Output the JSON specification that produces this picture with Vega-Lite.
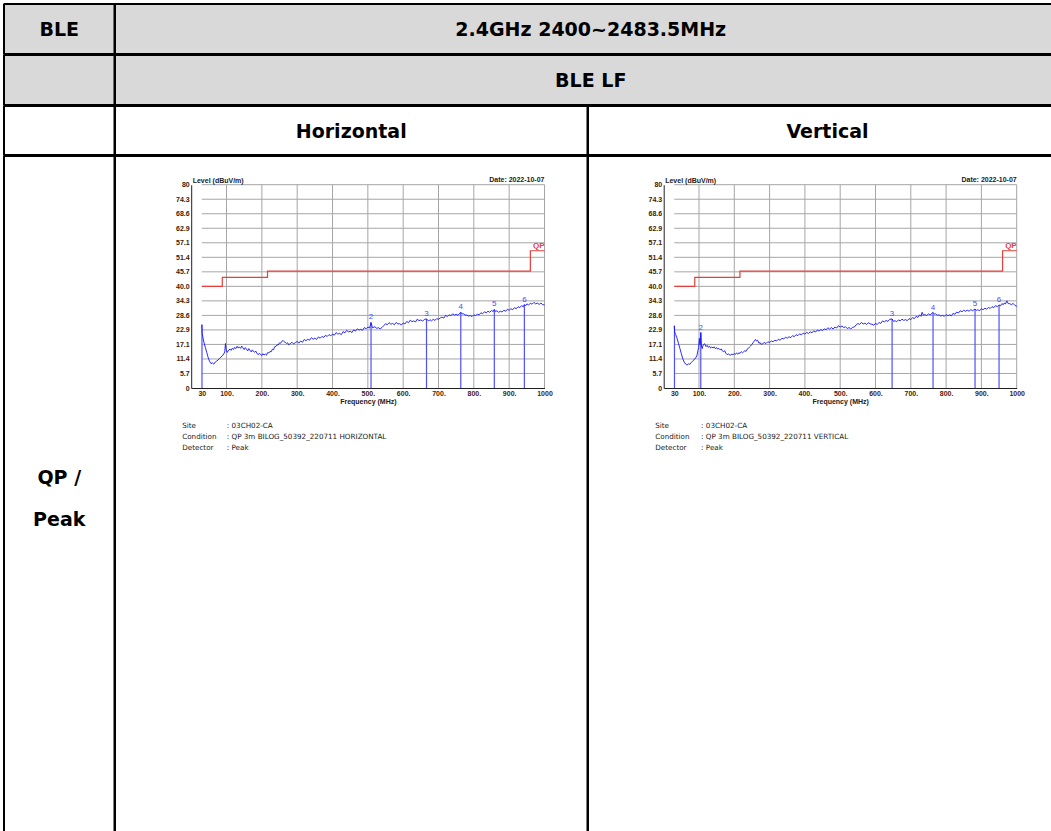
{
  "$schema": "https://vega.github.io/schema/vega-lite/v6.json",
  "padding": {"left": 3, "top": 3, "right": 0, "bottom": 0},
  "background": "white",
  "spacing": -4,
  "bounds": "full",
  "config": {
    "view": {"stroke": null, "fill": null},
    "concat": {"spacing": 0}
  },
  "datasets": {
    "gridF": [{"f": 100}, {"f": 200}, {"f": 300}, {"f": 400}, {"f": 500}, {"f": 600}, {"f": 700}, {"f": 800}, {"f": 900}, {"f": 1000}],
    "gridL": [{"L": 5.714}, {"L": 11.429}, {"L": 17.143}, {"L": 22.857}, {"L": 28.571}, {"L": 34.286}, {"L": 40}, {"L": 45.714}, {"L": 51.429}, {"L": 57.143}, {"L": 62.857}, {"L": 68.571}, {"L": 74.286}, {"L": 80}],
    "limit": [{"f": 30, "L": 40}, {"f": 88, "L": 43.5}, {"f": 216, "L": 46}, {"f": 960, "L": 54}, {"f": 1000, "L": 54}],
    "traceH": [
      {"f": 30, "L": 25.0}, {"f": 31, "L": 21.5}, {"f": 33, "L": 20.0}, {"f": 36, "L": 18.0}, {"f": 40, "L": 16.0}, {"f": 44, "L": 14.0}, {"f": 48, "L": 12.0}, {"f": 52, "L": 10.5}, {"f": 56, "L": 9.6}, {"f": 60, "L": 9.9}, {"f": 64, "L": 9.4}, {"f": 68, "L": 10.2}, {"f": 72, "L": 10.6}, {"f": 76, "L": 11.0}, {"f": 80, "L": 11.6}, {"f": 84, "L": 12.2}, {"f": 88, "L": 12.6}, {"f": 92, "L": 13.4}, {"f": 95, "L": 14.2}, {"f": 97, "L": 17.5},
      {"f": 99, "L": 15.0}, {"f": 102, "L": 14.0}, {"f": 106, "L": 14.9}, {"f": 110, "L": 15.3}, {"f": 113, "L": 14.8}, {"f": 116, "L": 15.6}, {"f": 120, "L": 15.2}, {"f": 123, "L": 16.0}, {"f": 126, "L": 15.5}, {"f": 130, "L": 16.4}, {"f": 133, "L": 15.7}, {"f": 136, "L": 16.2}, {"f": 140, "L": 15.6}, {"f": 143, "L": 16.5}, {"f": 146, "L": 15.9}, {"f": 150, "L": 15.1}, {"f": 153, "L": 15.9}, {"f": 156, "L": 15.4}, {"f": 160, "L": 14.6}, {"f": 163, "L": 15.5}, {"f": 166, "L": 14.9}, {"f": 170, "L": 14.2}, {"f": 173, "L": 15.0}, {"f": 176, "L": 14.4}, {"f": 180, "L": 14.1}, {"f": 183, "L": 14.5}, {"f": 186, "L": 13.6}, {"f": 190, "L": 13.1}, {"f": 193, "L": 13.7}, {"f": 196, "L": 13.2}, {"f": 200, "L": 12.8}, {"f": 203, "L": 13.5}, {"f": 206, "L": 13.0}, {"f": 210, "L": 13.3}, {"f": 213, "L": 12.9}, {"f": 216, "L": 13.9}, {"f": 220, "L": 13.8}, {"f": 223, "L": 14.4}, {"f": 226, "L": 14.2}, {"f": 230, "L": 15.3}, {"f": 233, "L": 15.0}, {"f": 236, "L": 16.2}, {"f": 240, "L": 16.4}, {"f": 243, "L": 17.0}, {"f": 246, "L": 16.9}, {"f": 250, "L": 17.8}, {"f": 253, "L": 17.6}, {"f": 256, "L": 18.3}, {"f": 260, "L": 18.7}, {"f": 263, "L": 18.2}, {"f": 266, "L": 18.0}, {"f": 270, "L": 17.5}, {"f": 273, "L": 17.8}, {"f": 276, "L": 17.0},
      {"f": 280, "L": 17.4}, {"f": 285, "L": 18.0}, {"f": 290, "L": 17.3}, {"f": 295, "L": 17.9}, {"f": 300, "L": 18.3}, {"f": 305, "L": 17.7}, {"f": 310, "L": 18.5}, {"f": 315, "L": 18.0}, {"f": 320, "L": 19.1}, {"f": 325, "L": 18.6}, {"f": 330, "L": 19.2}, {"f": 335, "L": 18.8}, {"f": 340, "L": 19.8}, {"f": 345, "L": 19.2}, {"f": 350, "L": 19.6}, {"f": 355, "L": 19.1}, {"f": 360, "L": 20.1}, {"f": 365, "L": 19.6}, {"f": 370, "L": 20.3}, {"f": 375, "L": 19.9}, {"f": 380, "L": 20.7}, {"f": 385, "L": 20.3}, {"f": 390, "L": 21.0}, {"f": 395, "L": 20.5}, {"f": 400, "L": 21.2}, {"f": 405, "L": 20.8}, {"f": 410, "L": 21.8}, {"f": 415, "L": 21.2}, {"f": 420, "L": 21.5}, {"f": 425, "L": 21.0}, {"f": 430, "L": 22.2}, {"f": 435, "L": 21.7}, {"f": 440, "L": 22.7}, {"f": 445, "L": 22.1}, {"f": 450, "L": 22.3}, {"f": 455, "L": 21.8}, {"f": 460, "L": 22.9}, {"f": 465, "L": 22.4}, {"f": 470, "L": 23.3}, {"f": 475, "L": 22.8}, {"f": 480, "L": 23.1}, {"f": 485, "L": 22.7}, {"f": 490, "L": 23.8}, {"f": 495, "L": 23.3}, {"f": 500, "L": 24.0}, {"f": 505, "L": 23.6}, {"f": 509, "L": 25.8}, {"f": 513, "L": 23.7}, {"f": 520, "L": 24.1}, {"f": 525, "L": 23.5}, {"f": 530, "L": 23.7}, {"f": 535, "L": 23.3}, {"f": 540, "L": 23.8}, {"f": 545, "L": 24.5}, {"f": 550, "L": 25.3}, {"f": 555, "L": 24.9}, {"f": 560, "L": 25.7}, {"f": 565, "L": 25.1}, {"f": 570, "L": 25.4}, {"f": 575, "L": 24.9}, {"f": 580, "L": 25.8}, {"f": 585, "L": 25.2}, {"f": 590, "L": 25.3}, {"f": 595, "L": 24.8}, {"f": 600, "L": 25.6}, {"f": 605, "L": 25.2}, {"f": 610, "L": 26.2}, {"f": 615, "L": 25.7}, {"f": 620, "L": 26.7}, {"f": 625, "L": 26.1}, {"f": 630, "L": 26.4}, {"f": 635, "L": 26.0}, {"f": 640, "L": 27.1}, {"f": 645, "L": 26.5}, {"f": 650, "L": 26.8}, {"f": 655, "L": 26.3}, {"f": 660, "L": 27.0}, {"f": 666, "L": 27.2}, {"f": 672, "L": 26.3}, {"f": 676, "L": 26.9}, {"f": 680, "L": 26.4}, {"f": 685, "L": 27.0}, {"f": 690, "L": 26.6}, {"f": 695, "L": 27.3}, {"f": 700, "L": 27.0}, {"f": 705, "L": 27.6}, {"f": 710, "L": 27.9}, {"f": 715, "L": 27.5}, {"f": 720, "L": 28.6}, {"f": 725, "L": 28.1}, {"f": 730, "L": 28.8}, {"f": 735, "L": 28.4}, {"f": 740, "L": 29.2}, {"f": 745, "L": 28.7}, {"f": 750, "L": 29.0}, {"f": 755, "L": 28.6}, {"f": 763, "L": 29.8}, {"f": 767, "L": 29.1}, {"f": 770, "L": 29.3}, {"f": 775, "L": 28.7}, {"f": 780, "L": 28.7}, {"f": 785, "L": 28.3}, {"f": 790, "L": 28.5}, {"f": 795, "L": 28.1}, {"f": 800, "L": 28.8}, {"f": 805, "L": 28.4}, {"f": 810, "L": 29.1}, {"f": 815, "L": 28.8}, {"f": 820, "L": 29.6}, {"f": 825, "L": 29.2}, {"f": 830, "L": 30.0}, {"f": 835, "L": 29.6}, {"f": 840, "L": 30.2}, {"f": 845, "L": 29.8}, {"f": 850, "L": 30.5}, {"f": 855, "L": 30.1}, {"f": 858, "L": 30.9}, {"f": 862, "L": 30.0}, {"f": 865, "L": 30.4}, {"f": 870, "L": 29.8}, {"f": 875, "L": 30.2}, {"f": 880, "L": 29.9}, {"f": 885, "L": 30.6}, {"f": 890, "L": 30.2}, {"f": 895, "L": 31.0}, {"f": 900, "L": 30.6}, {"f": 905, "L": 31.2}, {"f": 910, "L": 30.8}, {"f": 915, "L": 31.6}, {"f": 920, "L": 31.2}, {"f": 925, "L": 32.0}, {"f": 930, "L": 31.6}, {"f": 935, "L": 32.4}, {"f": 940, "L": 32.0}, {"f": 943, "L": 32.8}, {"f": 947, "L": 32.4}, {"f": 950, "L": 33.1}, {"f": 955, "L": 32.7}, {"f": 960, "L": 33.3}, {"f": 965, "L": 33.0}, {"f": 970, "L": 33.7}, {"f": 975, "L": 33.1}, {"f": 980, "L": 33.4}, {"f": 985, "L": 32.9}, {"f": 990, "L": 33.4}, {"f": 995, "L": 32.8}, {"f": 1000, "L": 32.7}
    ],
    "traceV": [
      {"f": 30, "L": 24.5}, {"f": 31, "L": 22.0}, {"f": 34, "L": 21.0}, {"f": 38, "L": 19.5}, {"f": 42, "L": 17.5}, {"f": 46, "L": 15.5}, {"f": 50, "L": 13.5}, {"f": 54, "L": 11.5}, {"f": 58, "L": 10.2}, {"f": 62, "L": 9.4}, {"f": 66, "L": 9.0}, {"f": 70, "L": 9.5}, {"f": 74, "L": 9.3}, {"f": 78, "L": 10.0}, {"f": 82, "L": 10.6}, {"f": 86, "L": 11.1}, {"f": 90, "L": 11.8}, {"f": 94, "L": 12.6}, {"f": 97, "L": 14.8}, {"f": 99, "L": 16.0}, {"f": 101, "L": 19.5}, {"f": 103, "L": 17.0}, {"f": 105, "L": 21.8}, {"f": 107, "L": 16.5},
      {"f": 109, "L": 15.5}, {"f": 112, "L": 17.0}, {"f": 116, "L": 17.4}, {"f": 120, "L": 16.3}, {"f": 123, "L": 16.8}, {"f": 126, "L": 16.0}, {"f": 130, "L": 16.4}, {"f": 133, "L": 15.7}, {"f": 136, "L": 16.1}, {"f": 140, "L": 15.8}, {"f": 143, "L": 16.2}, {"f": 146, "L": 15.5}, {"f": 150, "L": 15.9}, {"f": 153, "L": 15.3}, {"f": 156, "L": 15.6}, {"f": 160, "L": 15.0}, {"f": 163, "L": 15.4}, {"f": 166, "L": 14.6}, {"f": 170, "L": 14.3}, {"f": 173, "L": 14.7}, {"f": 176, "L": 13.7}, {"f": 180, "L": 13.1}, {"f": 183, "L": 13.5}, {"f": 186, "L": 13.0}, {"f": 190, "L": 12.9}, {"f": 193, "L": 13.4}, {"f": 196, "L": 13.1}, {"f": 200, "L": 13.5}, {"f": 203, "L": 13.2}, {"f": 206, "L": 13.8}, {"f": 210, "L": 13.3}, {"f": 213, "L": 13.9}, {"f": 216, "L": 13.6}, {"f": 220, "L": 14.3}, {"f": 223, "L": 13.9}, {"f": 226, "L": 14.2}, {"f": 230, "L": 14.7}, {"f": 233, "L": 14.4}, {"f": 236, "L": 15.2}, {"f": 240, "L": 15.6}, {"f": 243, "L": 16.1}, {"f": 246, "L": 16.5}, {"f": 250, "L": 17.2}, {"f": 253, "L": 17.8}, {"f": 256, "L": 18.4}, {"f": 260, "L": 19.1}, {"f": 263, "L": 18.5}, {"f": 266, "L": 18.8}, {"f": 270, "L": 17.6}, {"f": 273, "L": 17.9}, {"f": 276, "L": 17.2},
      {"f": 280, "L": 17.4}, {"f": 285, "L": 17.9}, {"f": 290, "L": 17.5}, {"f": 295, "L": 18.2}, {"f": 300, "L": 17.9}, {"f": 305, "L": 18.5}, {"f": 310, "L": 18.2}, {"f": 315, "L": 18.8}, {"f": 320, "L": 18.5}, {"f": 325, "L": 19.2}, {"f": 330, "L": 18.8}, {"f": 335, "L": 19.6}, {"f": 340, "L": 19.3}, {"f": 345, "L": 20.0}, {"f": 350, "L": 19.6}, {"f": 355, "L": 20.2}, {"f": 360, "L": 19.8}, {"f": 365, "L": 20.6}, {"f": 370, "L": 20.2}, {"f": 375, "L": 21.0}, {"f": 380, "L": 20.6}, {"f": 385, "L": 21.3}, {"f": 390, "L": 20.9}, {"f": 395, "L": 21.6}, {"f": 400, "L": 21.2}, {"f": 405, "L": 21.9}, {"f": 410, "L": 21.4}, {"f": 415, "L": 22.1}, {"f": 420, "L": 21.7}, {"f": 425, "L": 22.5}, {"f": 430, "L": 22.0}, {"f": 435, "L": 22.8}, {"f": 440, "L": 22.4}, {"f": 445, "L": 23.0}, {"f": 450, "L": 22.6}, {"f": 455, "L": 23.3}, {"f": 460, "L": 22.9}, {"f": 465, "L": 23.7}, {"f": 470, "L": 23.2}, {"f": 475, "L": 23.8}, {"f": 480, "L": 23.2}, {"f": 485, "L": 24.0}, {"f": 490, "L": 23.6}, {"f": 495, "L": 24.5}, {"f": 500, "L": 24.0}, {"f": 505, "L": 24.4}, {"f": 510, "L": 23.8}, {"f": 515, "L": 24.1}, {"f": 520, "L": 23.4}, {"f": 525, "L": 23.8}, {"f": 530, "L": 23.2}, {"f": 535, "L": 23.9}, {"f": 540, "L": 24.0}, {"f": 545, "L": 24.8}, {"f": 550, "L": 25.4}, {"f": 555, "L": 25.0}, {"f": 560, "L": 25.8}, {"f": 565, "L": 25.2}, {"f": 570, "L": 25.5}, {"f": 575, "L": 25.0}, {"f": 580, "L": 25.7}, {"f": 585, "L": 25.2}, {"f": 590, "L": 25.1}, {"f": 595, "L": 24.7}, {"f": 600, "L": 25.4}, {"f": 605, "L": 25.0}, {"f": 610, "L": 25.8}, {"f": 615, "L": 25.4}, {"f": 620, "L": 26.4}, {"f": 625, "L": 26.0}, {"f": 630, "L": 26.6}, {"f": 635, "L": 26.2}, {"f": 640, "L": 27.0}, {"f": 647, "L": 27.2}, {"f": 651, "L": 26.2}, {"f": 655, "L": 26.5}, {"f": 660, "L": 26.1}, {"f": 665, "L": 26.8}, {"f": 670, "L": 26.4}, {"f": 675, "L": 27.1}, {"f": 680, "L": 26.6}, {"f": 685, "L": 26.9}, {"f": 690, "L": 26.5}, {"f": 695, "L": 27.3}, {"f": 700, "L": 26.9}, {"f": 705, "L": 27.7}, {"f": 710, "L": 27.3}, {"f": 715, "L": 28.2}, {"f": 720, "L": 27.8}, {"f": 725, "L": 28.8}, {"f": 729, "L": 28.2}, {"f": 732, "L": 29.8}, {"f": 736, "L": 28.6}, {"f": 740, "L": 28.9}, {"f": 745, "L": 28.5}, {"f": 750, "L": 29.2}, {"f": 755, "L": 28.8}, {"f": 763, "L": 29.7}, {"f": 767, "L": 29.0}, {"f": 770, "L": 29.2}, {"f": 775, "L": 28.6}, {"f": 780, "L": 28.8}, {"f": 785, "L": 28.3}, {"f": 790, "L": 28.6}, {"f": 795, "L": 28.2}, {"f": 800, "L": 28.9}, {"f": 805, "L": 28.4}, {"f": 810, "L": 28.8}, {"f": 815, "L": 28.4}, {"f": 820, "L": 29.4}, {"f": 825, "L": 29.0}, {"f": 830, "L": 29.9}, {"f": 835, "L": 29.5}, {"f": 840, "L": 30.4}, {"f": 845, "L": 30.0}, {"f": 850, "L": 30.6}, {"f": 855, "L": 30.2}, {"f": 860, "L": 30.6}, {"f": 865, "L": 30.2}, {"f": 870, "L": 30.8}, {"f": 875, "L": 30.4}, {"f": 882, "L": 31.1}, {"f": 886, "L": 30.5}, {"f": 890, "L": 30.8}, {"f": 895, "L": 30.4}, {"f": 900, "L": 31.2}, {"f": 905, "L": 30.8}, {"f": 910, "L": 31.4}, {"f": 915, "L": 31.0}, {"f": 920, "L": 31.7}, {"f": 925, "L": 31.3}, {"f": 930, "L": 32.0}, {"f": 935, "L": 31.6}, {"f": 940, "L": 32.4}, {"f": 945, "L": 32.0}, {"f": 950, "L": 32.7}, {"f": 954, "L": 32.3}, {"f": 958, "L": 33.2}, {"f": 962, "L": 32.8}, {"f": 965, "L": 33.5}, {"f": 968, "L": 33.0}, {"f": 972, "L": 34.3}, {"f": 976, "L": 33.2}, {"f": 980, "L": 33.2}, {"f": 985, "L": 32.8}, {"f": 990, "L": 33.3}, {"f": 995, "L": 32.5}, {"f": 1000, "L": 32.1}
    ],
    "markersH": [{"f": 30.5, "L": 24.9, "n": ""}, {"f": 509, "L": 25.8, "n": "2"}, {"f": 666, "L": 27.2, "n": "3"}, {"f": 763, "L": 29.8, "n": "4"}, {"f": 858, "L": 30.9, "n": "5"}, {"f": 943, "L": 32.8, "n": "6"}],
    "markersV": [{"f": 30.5, "L": 24.5, "n": ""}, {"f": 105, "L": 21.8, "n": "2"}, {"f": 647, "L": 27.2, "n": "3"}, {"f": 763, "L": 29.7, "n": "4"}, {"f": 882, "L": 31.1, "n": "5"}, {"f": 950, "L": 32.7, "n": "6"}]
  },
  "vconcat": [
    {
      "spacing": 0, "bounds": "flush",
      "hconcat": [
        {"width": 110.5, "height": 50,
         "layer": [
           {"data": {"values": [{"t": "BLE"}]}, "mark": {"type": "rect", "fill": "#d9d9d9", "stroke": "black", "strokeWidth": 2, "strokeJoin": "bevel"}, "encoding": {"x": {"value": 0}, "x2": {"value": "width"}, "y": {"value": 0}, "y2": {"value": "height"}}},
           {"data": {"values": [{"t": "BLE"}]}, "mark": {"type": "text", "font": "DejaVu Sans", "fontWeight": "bold", "fontSize": 19, "color": "black", "dy": 1}, "encoding": {"text": {"field": "t"}}}
         ]},
        {"width": 951.5, "height": 50,
         "layer": [
           {"data": {"values": [{"t": "2.4GHz 2400~2483.5MHz"}]}, "mark": {"type": "rect", "fill": "#d9d9d9", "stroke": "black", "strokeWidth": 2, "strokeJoin": "bevel"}, "encoding": {"x": {"value": 0}, "x2": {"value": "width"}, "y": {"value": 0}, "y2": {"value": "height"}}},
           {"data": {"values": [{"t": "2.4GHz 2400~2483.5MHz"}]}, "mark": {"type": "text", "font": "DejaVu Sans", "fontWeight": "bold", "fontSize": 19, "color": "black", "dy": 1}, "encoding": {"text": {"field": "t"}}}
         ]}
      ]
    },
    {
      "spacing": 0, "bounds": "flush",
      "hconcat": [
        {"width": 110.5, "height": 50,
         "layer": [
           {"data": {"values": [{"t": ""}]}, "mark": {"type": "rect", "fill": "#d9d9d9", "stroke": "black", "strokeWidth": 2, "strokeJoin": "bevel"}, "encoding": {"x": {"value": 0}, "x2": {"value": "width"}, "y": {"value": 0}, "y2": {"value": "height"}}}
         ]},
        {"width": 951.5, "height": 50,
         "layer": [
           {"data": {"values": [{"t": "BLE LF"}]}, "mark": {"type": "rect", "fill": "#d9d9d9", "stroke": "black", "strokeWidth": 2, "strokeJoin": "bevel"}, "encoding": {"x": {"value": 0}, "x2": {"value": "width"}, "y": {"value": 0}, "y2": {"value": "height"}}},
           {"data": {"values": [{"t": "BLE LF"}]}, "mark": {"type": "text", "font": "DejaVu Sans", "fontWeight": "bold", "fontSize": 19, "color": "black", "dy": 1}, "encoding": {"text": {"field": "t"}}}
         ]}
      ]
    },
    {
      "spacing": 0, "bounds": "flush",
      "hconcat": [
        {"width": 110.5, "height": 49,
         "layer": [
           {"data": {"values": [{"t": ""}]}, "mark": {"type": "rect", "fill": "white", "stroke": "black", "strokeWidth": 2, "strokeJoin": "bevel"}, "encoding": {"x": {"value": 0}, "x2": {"value": "width"}, "y": {"value": 0}, "y2": {"value": "height"}}}
         ]},
        {"width": 472.5, "height": 49,
         "layer": [
           {"data": {"values": [{"t": "Horizontal"}]}, "mark": {"type": "rect", "fill": "white", "stroke": "black", "strokeWidth": 2, "strokeJoin": "bevel"}, "encoding": {"x": {"value": 0}, "x2": {"value": "width"}, "y": {"value": 0}, "y2": {"value": "height"}}},
           {"data": {"values": [{"t": "Horizontal"}]}, "mark": {"type": "text", "font": "DejaVu Sans", "fontWeight": "bold", "fontSize": 19, "color": "black", "dy": 1}, "encoding": {"text": {"field": "t"}}}
         ]},
        {"width": 479, "height": 49,
         "layer": [
           {"data": {"values": [{"t": "Vertical"}]}, "mark": {"type": "rect", "fill": "white", "stroke": "black", "strokeWidth": 2, "strokeJoin": "bevel"}, "encoding": {"x": {"value": 0}, "x2": {"value": "width"}, "y": {"value": 0}, "y2": {"value": "height"}}},
           {"data": {"values": [{"t": "Vertical"}]}, "mark": {"type": "text", "font": "DejaVu Sans", "fontWeight": "bold", "fontSize": 19, "color": "black", "dy": 1}, "encoding": {"text": {"field": "t"}}}
         ]}
      ]
    },
    {
      "spacing": 0, "bounds": "flush",
      "hconcat": [
        {"width": 110.5, "height": 690,
         "layer": [
           {"data": {"values": [{"t": "QP /\nPeak"}]}, "mark": {"type": "rect", "fill": "white", "stroke": "black", "strokeWidth": 2, "strokeJoin": "bevel"}, "encoding": {"x": {"value": 0}, "x2": {"value": "width"}, "y": {"value": 0}, "y2": {"value": "height"}}},
           {"data": {"values": [{"t": "QP /\nPeak"}]}, "mark": {"type": "text", "font": "DejaVu Sans", "fontWeight": "bold", "fontSize": 19, "color": "black", "lineBreak": "\n", "lineHeight": 42, "baseline": "middle", "dy": -23}, "encoding": {"text": {"field": "t"}}}
         ]},
        {
          "width": 472.5, "height": 690,
          "layer": [
            {"data": {"values": [{"t": "cell"}]}, "mark": {"type": "rect", "fill": "white", "stroke": "black", "strokeWidth": 2, "strokeJoin": "bevel"}, "encoding": {"x": {"value": 0}, "x2": {"value": "width"}, "y": {"value": 0}, "y2": {"value": "height"}}},
            {"data": {"name": "gridF"}, "mark": {"type": "rule", "color": "#a6a6a6", "strokeWidth": 1},
             "encoding": {
               "x": {"field": "f", "type": "quantitative", "scale": {"domain": [30, 1000], "range": [76.2, 429.5]},
                     "axis": {"orient": "bottom", "offset": -458, "zindex": 1, "grid": false, "ticks": false, "values": [30, 100, 200, 300, 400, 500, 600, 700, 800, 900, 1000],
                              "labelExpr": "datum.value == 30 || datum.value == 1000 ? '' + datum.value : datum.value + '.'",
                              "labelFont": "Liberation Sans", "labelFontSize": 7, "labelFontWeight": "bold", "labelColor": "#4a2208", "labelPadding": 1, "labelFlush": false, "labelOverlap": false,
                              "domainColor": "#202020", "domainWidth": 1,
                              "title": "Frequency (MHz)", "titleFont": "Liberation Sans", "titleFontSize": 7, "titleFontWeight": "bold", "titleColor": "#202020", "titlePadding": 1}},
               "y": {"datum": 0, "type": "quantitative"},
               "y2": {"datum": 80}}},
            {"data": {"name": "gridL"}, "mark": {"type": "rule", "color": "#a6a6a6", "strokeWidth": 1},
             "encoding": {
               "y": {"field": "L", "type": "quantitative", "scale": {"domain": [0, 80], "range": [232, 28.7]},
                     "axis": {"orient": "left", "offset": -76.2, "zindex": 1, "grid": false, "ticks": false, "values": [0, 5.714, 11.429, 17.143, 22.857, 28.571, 34.286, 40, 45.714, 51.429, 57.143, 62.857, 68.571, 74.286, 80],
                              "labelExpr": "datum.value == 0 || datum.value == 80 ? format(datum.value, 'd') : format(datum.value, '.1f')",
                              "labelFont": "Liberation Sans", "labelFontSize": 7, "labelFontWeight": "bold", "labelColor": "#3a1a06", "labelPadding": 2, "labelOverlap": false, "labelFlush": false,
                              "domainColor": "#202020", "domainWidth": 1,
                              "title": "Level (dBuV/m)", "titleAngle": 0, "titleAlign": "left", "titleBaseline": "bottom", "titleX": 1, "titleY": 27,
                              "titleFont": "Liberation Sans", "titleFontSize": 7, "titleFontWeight": "bold", "titleColor": "#202020"}},
               "x": {"datum": 30, "type": "quantitative"},
               "x2": {"datum": 1000}}},
            {"data": {"name": "limit"}, "mark": {"type": "line", "interpolate": "step-after", "color": "#e5403a", "strokeWidth": 1.2},
             "encoding": {"x": {"field": "f", "type": "quantitative"}, "y": {"field": "L", "type": "quantitative"}}},
            {"data": {"name": "markersH"}, "mark": {"type": "rule", "color": "#5050ff", "strokeWidth": 1.2},
             "encoding": {"x": {"field": "f", "type": "quantitative"}, "y": {"field": "L", "type": "quantitative"}, "y2": {"datum": 0}}},
            {"data": {"name": "traceH"}, "mark": {"type": "line", "color": "#1414ff", "strokeWidth": 0.9},
             "encoding": {"x": {"field": "f", "type": "quantitative"}, "y": {"field": "L", "type": "quantitative"}}},
            {"data": {"name": "markersH"}, "mark": {"type": "text", "color": "#4a4aff", "fontSize": 8, "font": "Liberation Sans", "baseline": "bottom", "dy": -1},
             "encoding": {"x": {"field": "f", "type": "quantitative"}, "y": {"field": "L", "type": "quantitative"}, "text": {"field": "n"}}},
            {"data": {"values": [{"t": "QP"}]}, "mark": {"type": "text", "color": "#e5403a", "fontSize": 8, "fontWeight": "bold", "font": "Liberation Sans", "align": "right", "baseline": "bottom", "dy": -1},
             "encoding": {"x": {"datum": 1000, "type": "quantitative"}, "y": {"datum": 54, "type": "quantitative"}, "text": {"field": "t"}}},
            {"data": {"values": [{"t": "Date: 2022-10-07"}]}, "mark": {"type": "text", "color": "#202020", "fontSize": 7, "fontWeight": "bold", "font": "Liberation Sans", "align": "right", "baseline": "bottom", "dy": -2},
             "encoding": {"x": {"datum": 1000, "type": "quantitative"}, "y": {"datum": 80, "type": "quantitative"}, "text": {"field": "t"}}},
            {"data": {"values": [{"t": "Site\nCondition\nDetector"}]}, "mark": {"type": "text", "color": "#1a1a1a", "fontSize": 7.2, "font": "DejaVu Sans", "align": "left", "baseline": "middle", "lineBreak": "\n", "lineHeight": 11},
             "encoding": {"x": {"datum": -25.5, "type": "quantitative"}, "y": {"datum": -15, "type": "quantitative"}, "text": {"field": "t"}}},
            {"data": {"values": [{"t": ": 03CH02-CA\n: QP 3m BILOG_50392_220711 HORIZONTAL\n: Peak"}]}, "mark": {"type": "text", "color": "#1a1a1a", "fontSize": 7.2, "font": "DejaVu Sans", "align": "left", "baseline": "middle", "lineBreak": "\n", "lineHeight": 11},
             "encoding": {"x": {"datum": 100.8, "type": "quantitative"}, "y": {"datum": -15, "type": "quantitative"}, "text": {"field": "t"}}}
          ]
        },
        {
          "width": 479, "height": 690,
          "layer": [
            {"data": {"values": [{"t": "cell"}]}, "mark": {"type": "rect", "fill": "white", "stroke": "black", "strokeWidth": 2, "strokeJoin": "bevel"}, "encoding": {"x": {"value": 0}, "x2": {"value": "width"}, "y": {"value": 0}, "y2": {"value": "height"}}},
            {"data": {"name": "gridF"}, "mark": {"type": "rule", "color": "#a6a6a6", "strokeWidth": 1},
             "encoding": {
               "x": {"field": "f", "type": "quantitative", "scale": {"domain": [30, 1000], "range": [75.7, 428.7]},
                     "axis": {"orient": "bottom", "offset": -458, "zindex": 1, "grid": false, "ticks": false, "values": [30, 100, 200, 300, 400, 500, 600, 700, 800, 900, 1000],
                              "labelExpr": "datum.value == 30 || datum.value == 1000 ? '' + datum.value : datum.value + '.'",
                              "labelFont": "Liberation Sans", "labelFontSize": 7, "labelFontWeight": "bold", "labelColor": "#4a2208", "labelPadding": 1, "labelFlush": false, "labelOverlap": false,
                              "domainColor": "#202020", "domainWidth": 1,
                              "title": "Frequency (MHz)", "titleFont": "Liberation Sans", "titleFontSize": 7, "titleFontWeight": "bold", "titleColor": "#202020", "titlePadding": 1}},
               "y": {"datum": 0, "type": "quantitative"},
               "y2": {"datum": 80}}},
            {"data": {"name": "gridL"}, "mark": {"type": "rule", "color": "#a6a6a6", "strokeWidth": 1},
             "encoding": {
               "y": {"field": "L", "type": "quantitative", "scale": {"domain": [0, 80], "range": [232, 28.7]},
                     "axis": {"orient": "left", "offset": -75.7, "zindex": 1, "grid": false, "ticks": false, "values": [0, 5.714, 11.429, 17.143, 22.857, 28.571, 34.286, 40, 45.714, 51.429, 57.143, 62.857, 68.571, 74.286, 80],
                              "labelExpr": "datum.value == 0 || datum.value == 80 ? format(datum.value, 'd') : format(datum.value, '.1f')",
                              "labelFont": "Liberation Sans", "labelFontSize": 7, "labelFontWeight": "bold", "labelColor": "#3a1a06", "labelPadding": 2, "labelOverlap": false, "labelFlush": false,
                              "domainColor": "#202020", "domainWidth": 1,
                              "title": "Level (dBuV/m)", "titleAngle": 0, "titleAlign": "left", "titleBaseline": "bottom", "titleX": 1, "titleY": 27,
                              "titleFont": "Liberation Sans", "titleFontSize": 7, "titleFontWeight": "bold", "titleColor": "#202020"}},
               "x": {"datum": 30, "type": "quantitative"},
               "x2": {"datum": 1000}}},
            {"data": {"name": "limit"}, "mark": {"type": "line", "interpolate": "step-after", "color": "#e5403a", "strokeWidth": 1.2},
             "encoding": {"x": {"field": "f", "type": "quantitative"}, "y": {"field": "L", "type": "quantitative"}}},
            {"data": {"name": "markersV"}, "mark": {"type": "rule", "color": "#5050ff", "strokeWidth": 1.2},
             "encoding": {"x": {"field": "f", "type": "quantitative"}, "y": {"field": "L", "type": "quantitative"}, "y2": {"datum": 0}}},
            {"data": {"name": "traceV"}, "mark": {"type": "line", "color": "#1414ff", "strokeWidth": 0.9},
             "encoding": {"x": {"field": "f", "type": "quantitative"}, "y": {"field": "L", "type": "quantitative"}}},
            {"data": {"name": "markersV"}, "mark": {"type": "text", "color": "#4a4aff", "fontSize": 8, "font": "Liberation Sans", "baseline": "bottom", "dy": -1},
             "encoding": {"x": {"field": "f", "type": "quantitative"}, "y": {"field": "L", "type": "quantitative"}, "text": {"field": "n"}}},
            {"data": {"values": [{"t": "QP"}]}, "mark": {"type": "text", "color": "#e5403a", "fontSize": 8, "fontWeight": "bold", "font": "Liberation Sans", "align": "right", "baseline": "bottom", "dy": -1},
             "encoding": {"x": {"datum": 1000, "type": "quantitative"}, "y": {"datum": 54, "type": "quantitative"}, "text": {"field": "t"}}},
            {"data": {"values": [{"t": "Date: 2022-10-07"}]}, "mark": {"type": "text", "color": "#202020", "fontSize": 7, "fontWeight": "bold", "font": "Liberation Sans", "align": "right", "baseline": "bottom", "dy": -2},
             "encoding": {"x": {"datum": 1000, "type": "quantitative"}, "y": {"datum": 80, "type": "quantitative"}, "text": {"field": "t"}}},
            {"data": {"values": [{"t": "Site\nCondition\nDetector"}]}, "mark": {"type": "text", "color": "#1a1a1a", "fontSize": 7.2, "font": "DejaVu Sans", "align": "left", "baseline": "middle", "lineBreak": "\n", "lineHeight": 11},
             "encoding": {"x": {"datum": -24, "type": "quantitative"}, "y": {"datum": -15, "type": "quantitative"}, "text": {"field": "t"}}},
            {"data": {"values": [{"t": ": 03CH02-CA\n: QP 3m BILOG_50392_220711 VERTICAL\n: Peak"}]}, "mark": {"type": "text", "color": "#1a1a1a", "fontSize": 7.2, "font": "DejaVu Sans", "align": "left", "baseline": "middle", "lineBreak": "\n", "lineHeight": 11},
             "encoding": {"x": {"datum": 106, "type": "quantitative"}, "y": {"datum": -15, "type": "quantitative"}, "text": {"field": "t"}}}
          ]
        }
      ]
    }
  ]
}
